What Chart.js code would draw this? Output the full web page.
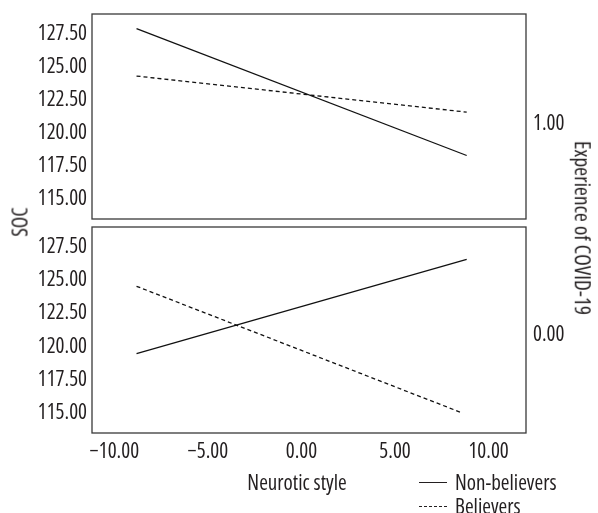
<!DOCTYPE html>
<html lang="en">
<head>
<meta charset="utf-8">
<script src="https://cdn.jsdelivr.net/npm/chart.js@4.4.1/dist/chart.umd.min.js"></script>
<style>
  body { margin: 0; background: #fff; }
  .page { position: relative; width: 598px; height: 513px; overflow: hidden;
          font-family: 'Open Sans', sans-serif; font-stretch: condensed;
          font-size: 21px; color: #231f20; }
  .panel { position: absolute; left: 0; width: 598px; }
  #topWrap { top: 0; height: 222px; }
  #bottomWrap { top: 222px; height: 291px; }
  .lbl { position: absolute; white-space: nowrap; line-height: 1; }
  .rot-left { transform: translate(-50%, -50%) rotate(-90deg); }
  .rot-right { transform: translate(-50%, -50%) rotate(90deg); }
  .key { position: absolute; left: 419px; width: 28px; height: 0; border-top: 1px solid #231f20; }
  .key.dash { border-top-style: dashed; }
</style>
</head>
<body>
<div class="page">
  <div class="panel" id="topWrap"><canvas id="topPanel"></canvas></div>
  <div class="panel" id="bottomWrap"><canvas id="bottomPanel"></canvas></div>

  <div class="lbl rot-left" style="left:20px; top:222px;">SOC</div>
  <div class="lbl rot-right" style="left:583px; top:228px; font-size:21.5px;">Experience of COVID-19</div>
  <div class="lbl" style="left:297px; top:482px; transform:translate(-50%,-50%);">Neurotic style</div>

  <div class="key" style="top:482px;"></div>
  <div class="lbl" style="left:455px; top:482px; transform:translateY(-50%);">Non-believers</div>
  <div class="key dash" style="top:506px;"></div>
  <div class="lbl" style="left:455px; top:506px; transform:translateY(-50%);">Believers</div>
</div>

<script>
// values
var neuroticX = [-8.82, 8.83];
var bottomBelieversX = [-8.82, 8.61];
var topNonBelievers = [127.89, 118.30];
var topBelievers = [124.31, 121.58];
var bottomNonBelievers = [119.47, 126.57];
var bottomBelievers = [124.54, 115.00];
var yTicks = [115, 117.5, 120, 122.5, 125, 127.5];
var xTicks = [-10, -5, 0, 5, 10];
var panelLabels = ['1.00', '0.00'];

var FONT = "'Open Sans', sans-serif";
var INK = '#231f20';
// weight slot carries the stretch keyword so the canvas picks the condensed width
var tickFont = { family: FONT, size: 21, weight: 'condensed' };

function pts(xs, ys) {
    return xs.map(function (x, i) { return { x: x, y: ys[i] }; });
}

function fmt(v) {
    var s = Math.abs(v).toFixed(2);
    return v < 0 ? '\u2212' + s : s;
}

// frame round the plot area + the panel value on the right
var panelBox = {
    id: 'panelBox',
    afterDraw: function (chart) {
        var a = chart.chartArea, ctx = chart.ctx;
        ctx.save();
        ctx.strokeStyle = '#3a3a3a';
        ctx.lineWidth = 1.3;
        ctx.strokeRect(a.left, a.top, a.right - a.left, a.bottom - a.top);
        ctx.fillStyle = INK;
        ctx.font = 'condensed 21px ' + FONT;
        ctx.textBaseline = 'middle';
        var o = chart.options.plugins.panelBox;
        ctx.fillText(o.label, a.right + 7, (a.top + a.bottom) / 2 + o.shift);
        ctx.restore();
    }
};

function makePanel(id, sets, label, shift, showX, pad) {
    return new Chart(document.getElementById(id), {
        type: 'line',
        data: {
            datasets: sets.map(function (s) {
                return {
                    data: s.data,
                    borderColor: '#111',
                    borderWidth: 1.3,
                    borderDash: s.dash ? [4, 3] : [],
                    pointRadius: 0,
                    fill: false,
                    tension: 0
                };
            })
        },
        options: {
            responsive: true,
            maintainAspectRatio: false,
            animation: false,
            devicePixelRatio: 1,
            layout: { padding: pad },
            plugins: {
                legend: { display: false },
                tooltip: { enabled: false },
                panelBox: { label: label, shift: shift }
            },
            scales: {
                x: {
                    type: 'linear',
                    min: -11.2,
                    max: 12,
                    display: showX,
                    afterBuildTicks: function (s) { s.ticks = xTicks.map(function (v) { return { value: v }; }); },
                    afterFit: function (s) {
                        s.height = showX ? 30 : 0;
                        s.paddingLeft = 0; s.paddingRight = 0;
                    },
                    grid: { display: false, drawTicks: false },
                    border: { display: false },
                    ticks: {
                        color: INK, padding: 6, maxRotation: 0,
                        font: tickFont,
                        callback: function (v) { return fmt(v); }
                    }
                },
                y: {
                    min: 113.5,
                    max: 129,
                    afterBuildTicks: function (s) { s.ticks = yTicks.map(function (v) { return { value: v }; }); },
                    afterFit: function (s) {
                        s.width = 92;
                        s.paddingTop = 0; s.paddingBottom = 0;
                    },
                    grid: { display: false, drawTicks: false },
                    border: { display: false },
                    ticks: {
                        color: INK, padding: 5,
                        font: tickFont,
                        callback: function (v) { return fmt(v); }
                    }
                }
            }
        },
        plugins: [panelBox]
    });
}

makePanel('topPanel', [
    { data: pts(neuroticX, topNonBelievers), dash: false },
    { data: pts(neuroticX, topBelievers), dash: true }
], panelLabels[0], 8, false, { top: 14, right: 72, bottom: 3, left: 0 });

makePanel('bottomPanel', [
    { data: pts(neuroticX, bottomNonBelievers), dash: false },
    { data: pts(bottomBelieversX, bottomBelievers), dash: true }
], panelLabels[1], 5, true, { top: 5, right: 72, bottom: 50, left: 0 });
</script>
</body>
</html>
